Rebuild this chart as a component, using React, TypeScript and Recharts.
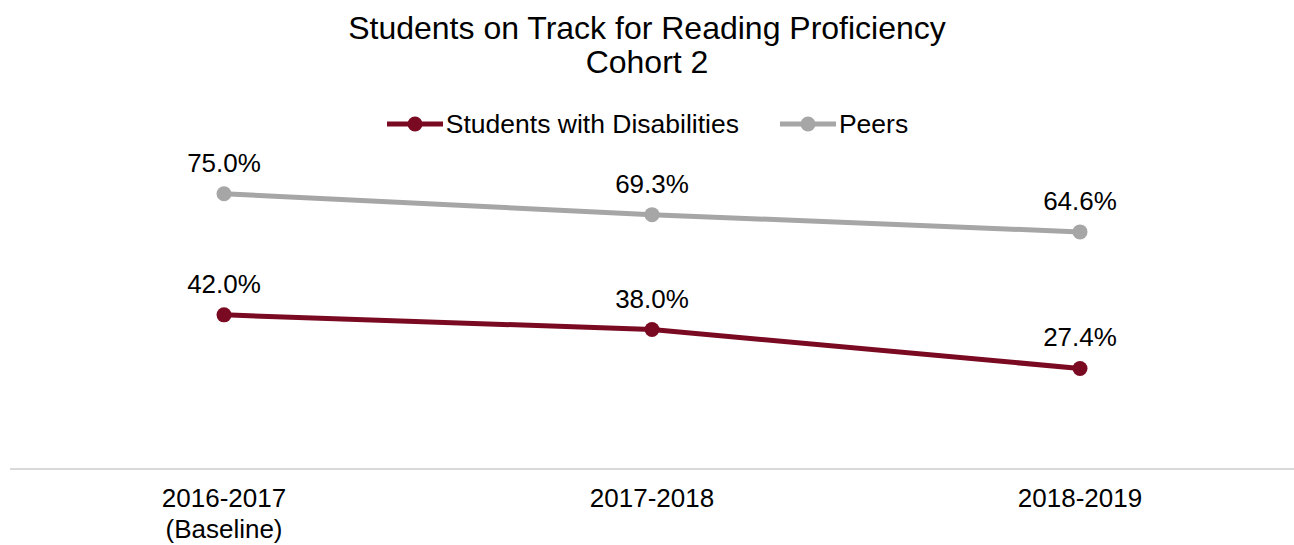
import React from "react";
import { LineChart, Line, XAxis, YAxis, LabelList } from "recharts";

const categories = ["2016-2017\n(Baseline)", "2017-2018", "2018-2019"];
const swdValues = [42.0, 38.0, 27.4];
const peerValues = [75.0, 69.3, 64.6];

const RED = "#7A0A22";
const GRAY = "#A6A6A6";
const FONT = "'Liberation Sans', Arial, sans-serif";

const data = categories.map((c, i) => ({
  year: c,
  swd: swdValues[i],
  peers: peerValues[i],
}));

const YearTick = ({ x, y, payload }: any) => {
  const lines = String(payload.value).split("\n");
  return (
    <text x={x} y={y} textAnchor="middle" fontSize={26} fill="#000" fontFamily={FONT}>
      {lines.map((l, i) => (
        <tspan key={i} x={x} dy={i === 0 ? 30 : 31}>
          {l}
        </tspan>
      ))}
    </text>
  );
};

const PctLabel = ({ x, y, value }: any) => (
  <text x={x} y={y - 22} textAnchor="middle" fontSize={26} fill="#000" fontFamily={FONT}>
    {Number(value).toFixed(1)}%
  </text>
);

const legendItems = [
  { name: "Students with Disabilities", color: RED },
  { name: "Peers", color: GRAY },
];

const LegendBox = () => (
  <div
    style={{
      position: "absolute",
      top: 108,
      left: 0,
      width: 1294,
      height: 32,
      display: "flex",
      justifyContent: "center",
      alignItems: "center",
      gap: 40,
      fontFamily: FONT,
      fontSize: 26.5,
    }}
  >
    {legendItems.map((it) => (
      <div key={it.name} style={{ display: "flex", alignItems: "center" }}>
        <svg width={58} height={18} style={{ marginRight: 2 }}>
          <line x1={1} y1={9} x2={57} y2={9} stroke={it.color} strokeWidth={5} />
          <circle cx={29} cy={9} r={7.5} fill={it.color} />
        </svg>
        <span style={{ color: "#000" }}>{it.name}</span>
      </div>
    ))}
  </div>
);

export default function App() {
  return (
    <div style={{ position: "relative", width: 1294, height: 545, background: "#fff" }}>
      <style>{"body{margin:0}"}</style>
      <div
        style={{
          position: "absolute",
          top: 11,
          left: 0,
          width: 1294,
          textAlign: "center",
          fontFamily: FONT,
          fontSize: 32,
          lineHeight: "34px",
          color: "#000",
        }}
      >
        Students on Track for Reading Proficiency
        <br />
        Cohort 2
      </div>
      <LegendBox />
      <LineChart width={1294} height={545} data={data} margin={{ top: 102, right: 0, bottom: 46, left: 10 }}>
        <XAxis
          dataKey="year"
          axisLine={{ stroke: "#D9D9D9", strokeWidth: 2 }}
          tickLine={false}
          tick={<YearTick />}
          interval={0}
          padding={{ left: 214, right: 214 }}
        />
        <YAxis hide domain={[0, 100]} />
        <Line
          dataKey="swd"
          name="Students with Disabilities"
          stroke={RED}
          strokeWidth={5}
          dot={{ r: 7.5, fill: RED, stroke: RED, strokeWidth: 0 }}
          isAnimationActive={false}
        >
          <LabelList dataKey="swd" content={<PctLabel />} />
        </Line>
        <Line
          dataKey="peers"
          name="Peers"
          stroke={GRAY}
          strokeWidth={5}
          dot={{ r: 7.5, fill: GRAY, stroke: GRAY, strokeWidth: 0 }}
          isAnimationActive={false}
        >
          <LabelList dataKey="peers" content={<PctLabel />} />
        </Line>
      </LineChart>
    </div>
  );
}
